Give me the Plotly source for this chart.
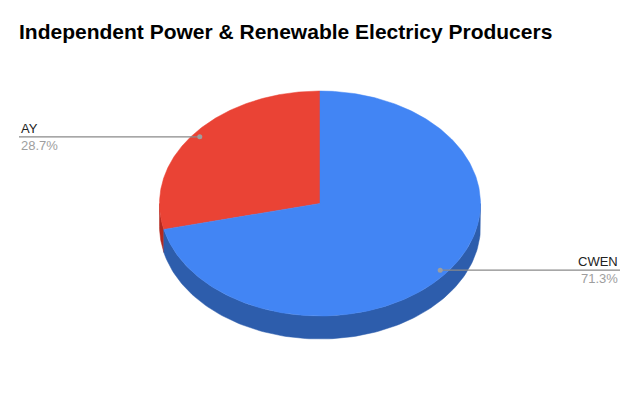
import numpy as np
import plotly.graph_objects as go

labels = ["AY", "CWEN"]
values = [28.7, 71.3]
top_colors = ["#ea4335", "#4285f4"]
side_colors = ["#b3291f", "#2d5dac"]

W, H = 640, 396
cx, cy = 320, 203.5
rx, ry = 160.5, 112.5
depth = 23

def pt(a, r=1.0, dz=0.0):
    t = np.radians(a)
    return cx + r * rx * np.cos(t), cy - r * ry * np.sin(t) + dz

fig = go.Figure()
total = sum(values)
start = 90.0
slices = []
for lab, v, tc, sc in zip(labels, values, top_colors, side_colors):
    sweep = v / total * 360.0
    slices.append((lab, v, start, start + sweep, tc, sc))
    start += sweep

# sides (front half: angles 180..360 mod 360)
for lab, v, a0, a1, tc, sc in slices:
    for base in (0, 360):
        lo = max(a0, base + 180)
        hi = min(a1, base + 360)
        if hi > lo:
            angs = np.linspace(lo, hi, 120)
            xt, yt = pt(angs)
            xb, yb = pt(angs[::-1], dz=depth)
            xs = np.concatenate([xt, xb, xt[:1]])
            ys = np.concatenate([yt, yb, yt[:1]])
            fig.add_trace(go.Scatter(x=xs, y=ys, fill="toself", fillcolor=sc,
                                     mode="lines", line=dict(width=0.5, color=sc),
                                     hoverinfo="skip", showlegend=False))

# top faces
for lab, v, a0, a1, tc, sc in slices:
    angs = np.linspace(a0, a1, 300)
    xt, yt = pt(angs)
    xs = np.concatenate([[cx], xt, [cx]])
    ys = np.concatenate([[cy], yt, [cy]])
    fig.add_trace(go.Scatter(x=xs, y=ys, fill="toself", fillcolor=tc,
                             mode="lines", line=dict(width=0.5, color=tc),
                             hoverinfo="skip", showlegend=False))

# leader lines and labels
label_x = {"AY": 19, "CWEN": 620}
for lab, v, a0, a1, tc, sc in slices:
    mid = (a0 + a1) / 2
    dx, dy = pt(mid, r=0.955)
    lx = label_x[lab]
    fig.add_trace(go.Scatter(x=[dx, lx], y=[dy, dy], mode="lines",
                             line=dict(color="#8a8a8a", width=1.3),
                             hoverinfo="skip", showlegend=False))
    fig.add_trace(go.Scatter(x=[dx], y=[dy], mode="markers",
                             marker=dict(color="#9e9e9e", size=5),
                             hoverinfo="skip", showlegend=False))
    anchor = "left" if lx < cx else "right"
    fig.add_annotation(x=lx, y=dy + 1, text=lab, showarrow=False,
                       xanchor=anchor, yanchor="bottom",
                       font=dict(family="Liberation Sans, Arial", size=13, color="#222222"))
    fig.add_annotation(x=lx, y=dy - 1, text=f"{v / total * 100:.1f}%", showarrow=False,
                       xanchor=anchor, yanchor="top",
                       font=dict(family="Liberation Sans, Arial", size=13, color="#9e9e9e"))

fig.update_layout(
    width=W, height=H,
    margin=dict(l=0, r=0, t=0, b=0),
    paper_bgcolor="white", plot_bgcolor="white",
    xaxis=dict(range=[0, W], visible=False, fixedrange=True),
    yaxis=dict(range=[H, 0], visible=False, fixedrange=True),
    title=dict(text="<b>Independent Power & Renewable Electricy Producers</b>",
               x=19 / W, xanchor="left", y=1 - 32 / H, yanchor="middle",
               font=dict(family="Liberation Sans, Arial", size=21, color="#000000")),
    showlegend=False,
)

fig.write_html("out.html")
